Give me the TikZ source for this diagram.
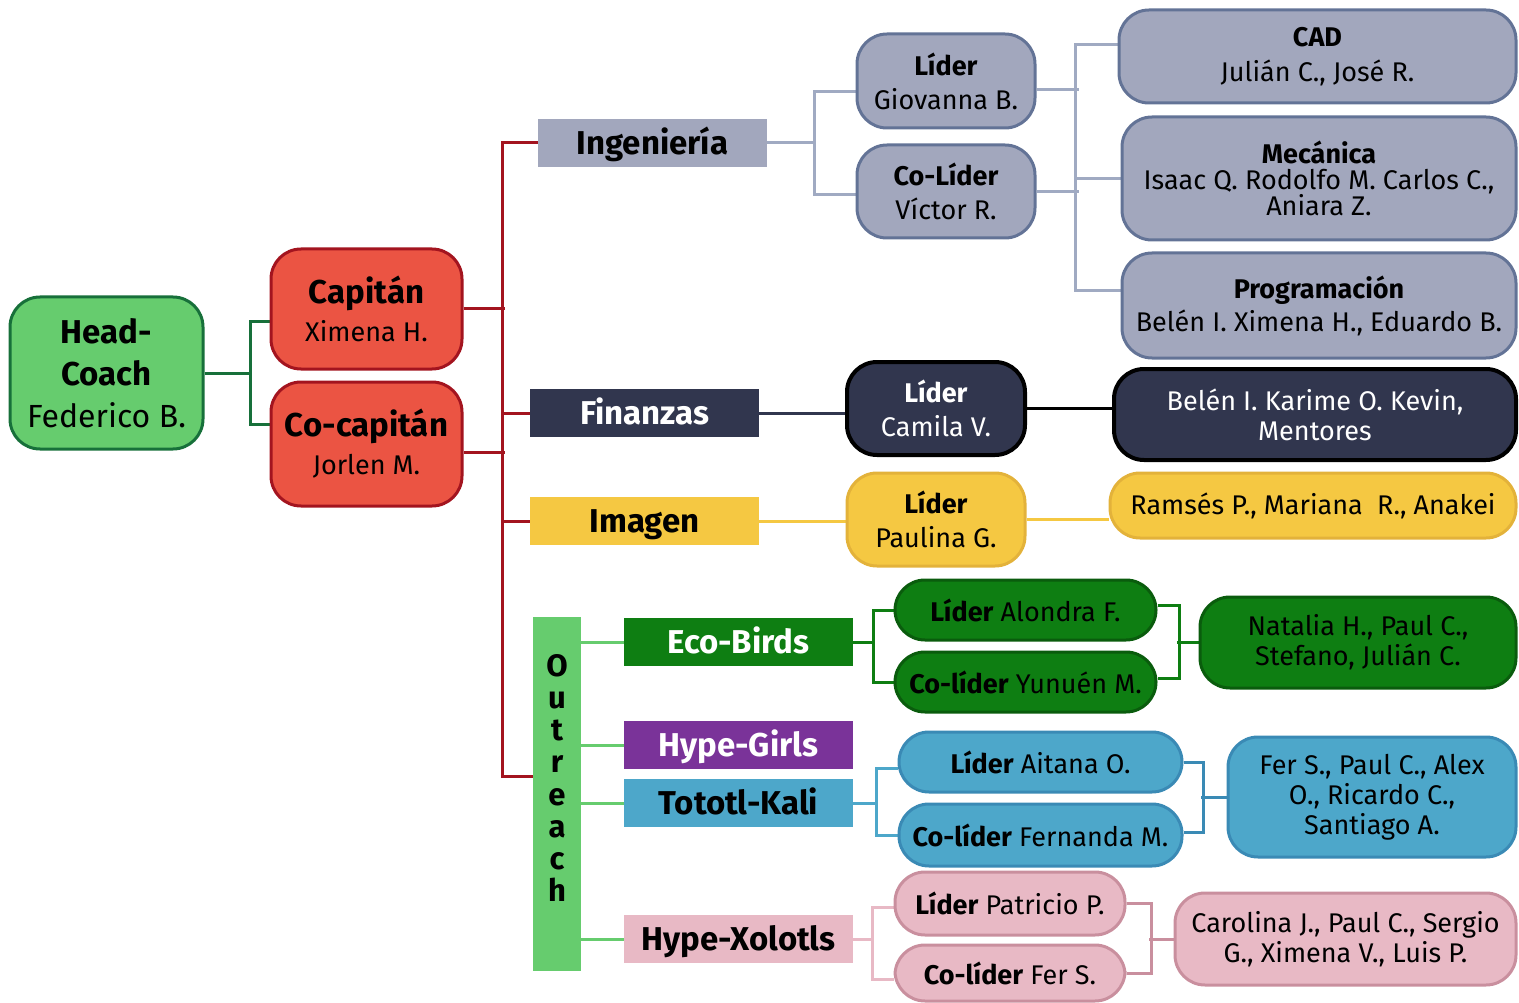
\documentclass[tikz,border=0pt]{standalone}
\usepackage{fontspec}
\setmainfont{Fira Sans}
\definecolor{hcfill}{HTML}{66CC6E}
\definecolor{hcline}{HTML}{17703A}
\definecolor{capfill}{HTML}{EB5443}
\definecolor{capline}{HTML}{A3141F}
\definecolor{ingfill}{HTML}{A2A7BD}
\definecolor{ingline}{HTML}{637396}
\definecolor{ingconn}{HTML}{A0AAC2}
\definecolor{finfill}{HTML}{31364E}
\definecolor{imgfill}{HTML}{F5C842}
\definecolor{imgline}{HTML}{E3B23A}
\definecolor{ecofill}{HTML}{0E7E12}
\definecolor{ecoline}{HTML}{0A5C0D}
\definecolor{hgfill}{HTML}{7A3399}
\definecolor{tkfill}{HTML}{4DA7CA}
\definecolor{tkline}{HTML}{3A8AB5}
\definecolor{hxfill}{HTML}{E8B9C5}
\definecolor{hxline}{HTML}{C98F9E}
\pgfdeclarelayer{bg}
\pgfsetlayers{bg,main}
\begin{document}
\begin{tikzpicture}[x=1pt,y=-1pt,
  rbox/.style={draw, rounded corners=30pt, line width=3pt, align=center, inner sep=0pt},
  catbox/.style={inner sep=0pt, minimum width=229pt, minimum height=48pt, text height=26pt, text depth=3pt, font=\bfseries\fontsize{33}{36}\selectfont},
  conn/.style={line width=3pt},
]
\useasboundingbox (0,0) rectangle (1519,1003);

% ---------- top level
\node[rbox, fill=hcfill, draw=hcline, minimum width=193pt, minimum height=152pt,
  font=\fontsize{32}{42}\selectfont] (head) at (106.5,373)
  {{\bfseries\fontsize{33}{42}\selectfont Head-}\\{\bfseries\fontsize{33}{42}\selectfont Coach}\\Federico B.};
\node[rbox, fill=capfill, draw=capline, minimum width=191pt, minimum height=120pt,
  font=\fontsize{27}{38}\selectfont] (cap) at (366.5,309)
  {{\bfseries\fontsize{33}{38}\selectfont Capitán}\\Ximena H.};
\node[rbox, fill=capfill, draw=capline, minimum width=191pt, minimum height=124pt,
  font=\fontsize{27}{38}\selectfont] (cocap) at (366.5,444)
  {{\bfseries\fontsize{33}{38}\selectfont Co-capitán}\\Jorlen M.};

% ---------- categories
\node[catbox, fill=ingfill] (ing) at (652.5,143) {Ingeniería};
\node[catbox, fill=finfill, text=white] (fin) at (644.5,413) {Finanzas};
\node[catbox, fill=imgfill] (img) at (644.5,521) {Imagen};
\node[inner sep=0pt, fill=hcfill, minimum width=48pt, minimum height=354pt] (out) at (557,794) {};
\node[inner sep=0pt, align=center, font=\bfseries\fontsize{31}{32.2}\selectfont] (outtxt) at (557,778)
  {O\\u\\t\\r\\e\\a\\c\\h};
\node[catbox, fill=ecofill, text=white] (eco) at (738.5,642) {Eco-Birds};
\node[catbox, fill=hgfill, text=white] (hg) at (738.5,745) {Hype-Girls};
\node[catbox, fill=tkfill] (tk) at (738.5,803) {Tototl-Kali};
\node[catbox, fill=hxfill] (hx) at (738.5,939) {Hype-Xolotls};

% ---------- Ingenieria
\node[rbox, fill=ingfill, draw=ingline, minimum width=178pt, minimum height=94pt, font=\fontsize{27}{34}\selectfont] (lidI) at (946,81)
  {\textbf{Líder}\\Giovanna B.};
\node[rbox, fill=ingfill, draw=ingline, minimum width=178pt, minimum height=93pt, font=\fontsize{27}{34}\selectfont] (coI) at (946,191.5)
  {\textbf{Co-Líder}\\Víctor R.};
\node[rbox, fill=ingfill, draw=ingline, minimum width=397pt, minimum height=93pt, font=\fontsize{27}{34}\selectfont] (cad) at (1317.5,56.5)
  {\textbf{CAD}\\[1pt]Julián C., José R.};
\node[rbox, fill=ingfill, draw=ingline, minimum width=394pt, minimum height=123pt, font=\fontsize{27}{26}\selectfont] (mec) at (1319,178.5)
  {\textbf{Mecánica}\\Isaac Q. Rodolfo M. Carlos C.,\\Aniara Z.};
\node[rbox, fill=ingfill, draw=ingline, minimum width=394pt, minimum height=105pt, font=\fontsize{27}{33}\selectfont] (prog) at (1319,305.5)
  {\textbf{Programación}\\Belén I. Ximena H., Eduardo B.};

% ---------- Finanzas
\node[rbox, fill=finfill, draw=black, line width=4pt, text=white, minimum width=178pt, minimum height=93pt, font=\fontsize{27}{34}\selectfont] (lidF) at (936,408.5)
  {\textbf{Líder}\\Camila V.};
\node[rbox, fill=finfill, draw=black, line width=4pt, text=white, minimum width=402pt, minimum height=91pt, font=\fontsize{27}{30}\selectfont] (menF) at (1315,414.5)
  {Belén I. Karime O. Kevin,\\Mentores};

% ---------- Imagen
\node[rbox, fill=imgfill, draw=imgline, minimum width=178pt, minimum height=93pt, font=\fontsize{27}{34}\selectfont] (lidIm) at (936,519.5)
  {\textbf{Líder}\\Paulina G.};
\node[rbox, fill=imgfill, draw=imgline, minimum width=406pt, minimum height=65pt, font=\fontsize{27}{30}\selectfont] (ram) at (1313,505.5)
  {Ramsés P., Mariana\ \ R., Anakei};

% ---------- Eco-Birds
\node[rbox, fill=ecofill, draw=ecoline, minimum width=261pt, minimum height=60pt, font=\fontsize{27}{30}\selectfont] (lA) at (1025.5,610)
  {\textbf{Líder} Alondra F.};
\node[rbox, fill=ecofill, draw=ecoline, minimum width=261pt, minimum height=60pt, font=\fontsize{27}{30}\selectfont] (cY) at (1025.5,682)
  {\textbf{Co-líder} Yunuén M.};
\node[rbox, fill=ecofill, draw=ecoline, minimum width=316pt, minimum height=91pt, font=\fontsize{27}{30}\selectfont] (nat) at (1358,642.5)
  {Natalia H., Paul C.,\\Stefano, Julián C.};

% ---------- Tototl-Kali
\node[rbox, fill=tkfill, draw=tkline, minimum width=283pt, minimum height=60pt, font=\fontsize{27}{30}\selectfont] (lAi) at (1040.5,762)
  {\textbf{Líder} Aitana O.};
\node[rbox, fill=tkfill, draw=tkline, minimum width=283pt, minimum height=62pt, font=\fontsize{27}{30}\selectfont] (cF) at (1040.5,835)
  {\textbf{Co-líder} Fernanda M.};
\node[rbox, fill=tkfill, draw=tkline, minimum width=288pt, minimum height=120pt, font=\fontsize{27}{30}\selectfont] (fer) at (1372,797)
  {Fer S., Paul C., Alex\\O., Ricardo C.,\\Santiago A.};

% ---------- Hype-Xolotls
\node[rbox, fill=hxfill, draw=hxline, minimum width=230pt, minimum height=63pt, font=\fontsize{27}{30}\selectfont] (lP) at (1010,903.5)
  {\textbf{Líder} Patricio P.};
\node[rbox, fill=hxfill, draw=hxline, minimum width=230pt, minimum height=56pt, font=\fontsize{27}{30}\selectfont] (cFS) at (1010,973)
  {\textbf{Co-líder} Fer S.};
\node[rbox, fill=hxfill, draw=hxline, minimum width=341pt, minimum height=92pt, font=\fontsize{27}{30}\selectfont] (car) at (1345.5,939)
  {Carolina J., Paul C., Sergio\\G., Ximena V., Luis P.};

% ---------- connectors
\begin{pgfonlayer}{bg}
\draw[conn, hcline] (head.east) -- ++(46,0) |- ([yshift=-12pt]cap.west);
\draw[conn, hcline] (head.east) -- ++(46,0) |- ([yshift=20pt]cocap.west);

\draw[conn, capline] (cap.east) -- ++(41,0);
\draw[conn, capline] ([yshift=-8pt]cocap.east) -- ++(41,0);
\draw[conn, capline] (ing.west) -- ++(-35,0) |- ([yshift=18pt]out.west);
\draw[conn, capline] (fin.west) -- ++(-27,0);
\draw[conn, capline] (img.west) -- ++(-27,0);

\draw[conn, ingconn] (ing.east) -- ++(47,0) |- ([yshift=-11pt]lidI.west);
\draw[conn, ingconn] (ing.east) -- ++(47,0) |- ([yshift=-3.5pt]coI.west);
\draw[conn, ingconn] ([yshift=-9pt]lidI.east) -- ++(42,0);
\draw[conn, ingconn] (coI.east) -- ++(42,0);
\draw[conn, ingconn] ([yshift=11.5pt]cad.west) -- ++(-42,0) |- ([yshift=14.5pt]prog.west);
\draw[conn, ingconn] (mec.west) -- ++(-45,0);

\draw[conn, finfill] (fin.east) -- (fin.east -| lidF.west);
\draw[conn, black] (lidF.east) -- (lidF.east -| menF.west);

\draw[conn, imgfill] (img.east) -- (img.east -| lidIm.west);
\draw[conn, imgfill] (lidIm.east) -- (lidIm.east -| ram.west);

\draw[conn, hcfill] (eco.west) -- (eco.west -| out.east);
\draw[conn, hcfill] (hg.west) -- (hg.west -| out.east);
\draw[conn, hcfill] (tk.west) -- (tk.west -| out.east);
\draw[conn, hcfill] (hx.west) -- (hx.west -| out.east);

\draw[conn, ecofill] (eco.east) -- ++(20,0) |- (lA.west);
\draw[conn, ecofill] (eco.east) -- ++(20,0) |- (cY.west);
\draw[conn, ecofill] ([yshift=5pt]lA.east) -- ++(22,0) |- ([yshift=4pt]cY.east);
\draw[conn, ecofill] (nat.west) -- ++(-22,0);

\draw[conn, tkfill] (tk.east) -- ++(23,0) |- ([yshift=-6pt]lAi.west);
\draw[conn, tkfill] (tk.east) -- ++(23,0) |- (cF.west);
\draw[conn, tkline] (lAi.east) -- ++(20,0) |- ([yshift=3pt]cF.east);
\draw[conn, tkline] (fer.west) -- ++(-26,0);

\draw[conn, hxfill] (hx.east) -- ++(19,0) |- ([yshift=-4pt]lP.west);
\draw[conn, hxfill] (hx.east) -- ++(19,0) |- ([yshift=-6pt]cFS.west);
\draw[conn, hxline] (lP.east) -- ++(25,0) |- (cFS.east);
\draw[conn, hxline] (car.west) -- ++(-25,0);
\end{pgfonlayer}
\end{tikzpicture}
\end{document}
